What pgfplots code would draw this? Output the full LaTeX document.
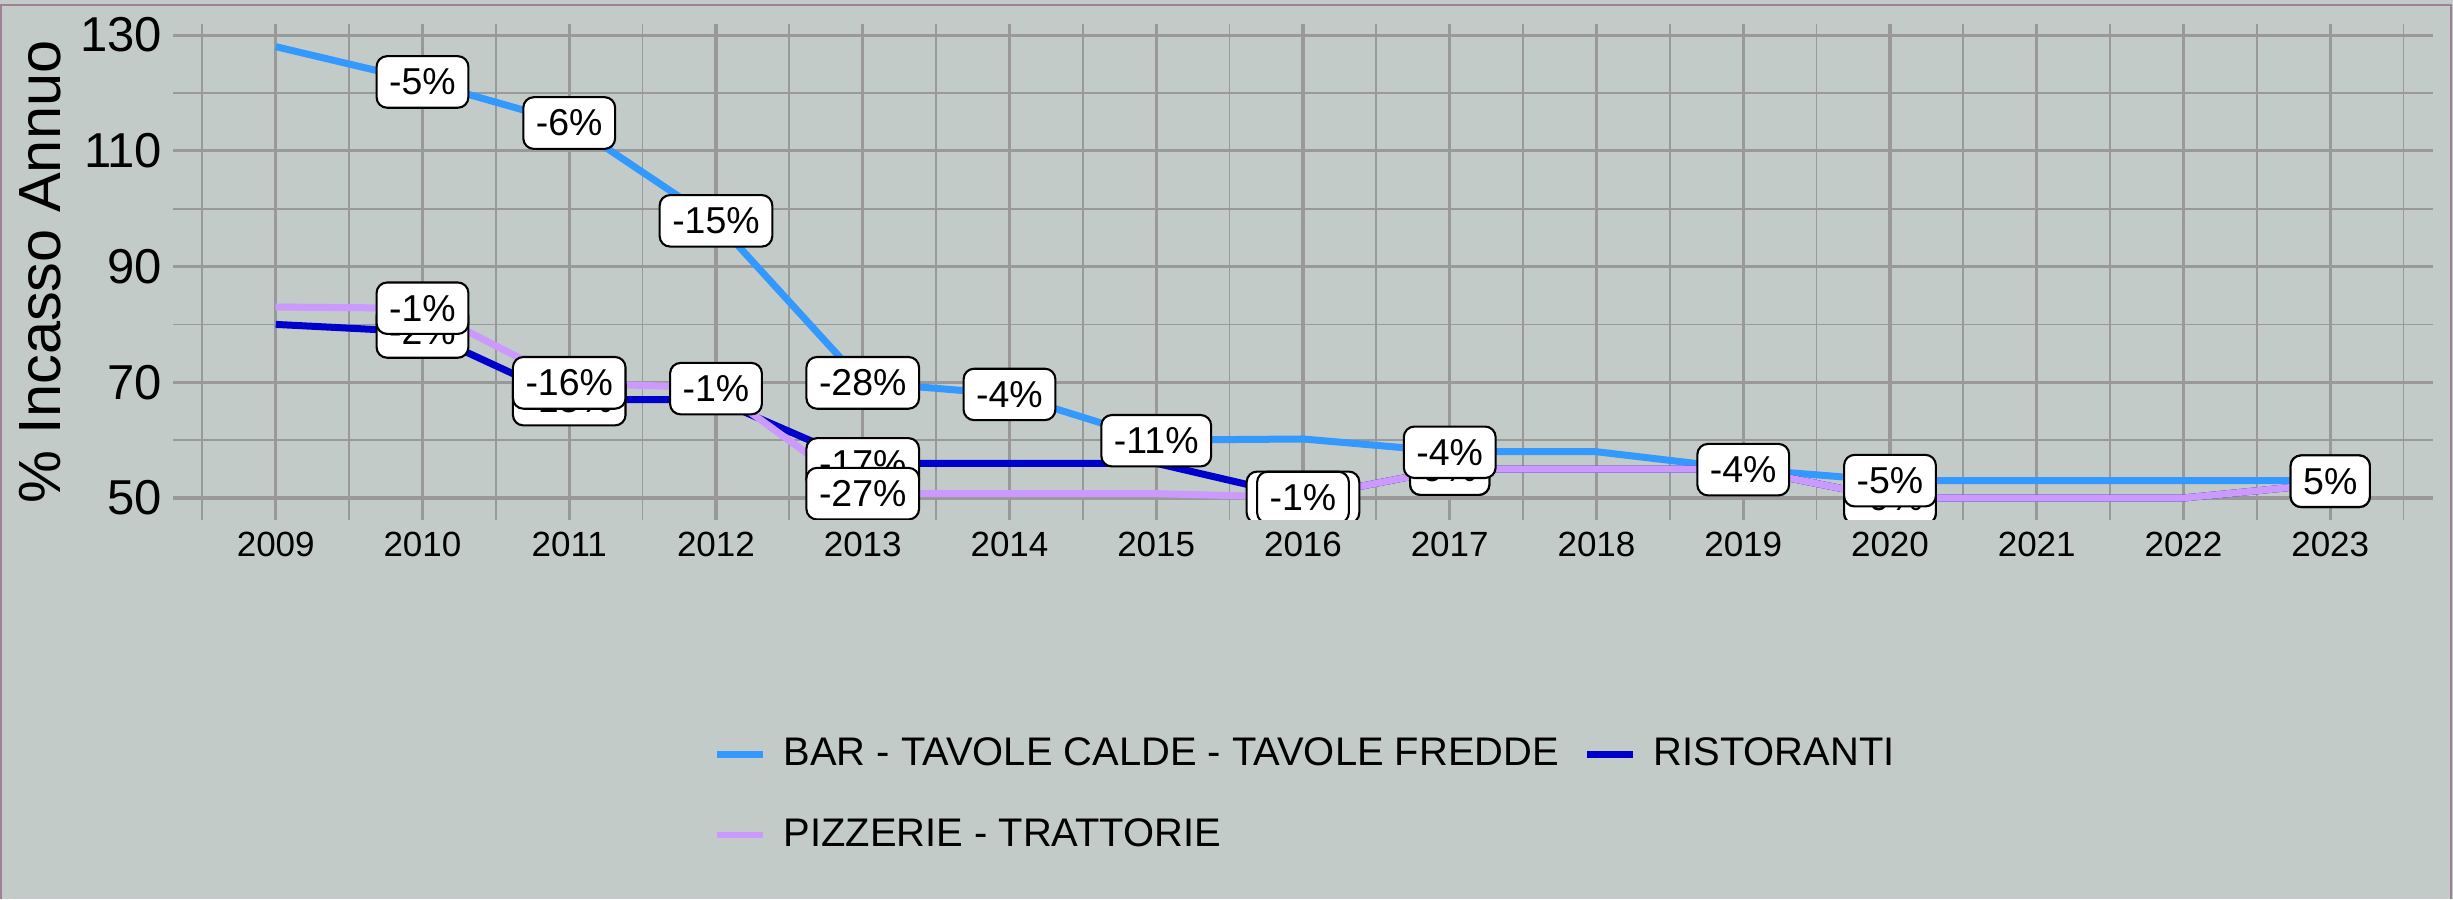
\documentclass[border=0pt]{standalone}
\usepackage{fontspec}
\setmainfont{Liberation Sans}
\usepackage{pgfplots}
\pgfplotsset{compat=1.18}
\definecolor{bg}{RGB}{194,203,199}
\definecolor{gridc}{RGB}{153,153,153}
\definecolor{barc}{RGB}{51,153,255}
\definecolor{ristc}{RGB}{0,0,204}
\definecolor{pizzc}{RGB}{204,153,255}
\definecolor{framec}{RGB}{160,128,150}
\pgfplotsset{lbl/.style={forget plot, draw=none, nodes near coords, point meta=explicit symbolic}}
\begin{document}
\begin{tikzpicture}
\path[use as bounding box, fill=bg] (0,0) rectangle (700.86pt,256.86pt);
\begin{axis}[
  at={(49.43pt,108.29pt)}, anchor=south west,
  scale only axis, width=645.7pt, height=141.6pt,
  xmin=2008.3, xmax=2023.7, ymin=46.2, ymax=131.85,
  xtick={2009,2010,...,2023},
  minor xtick={2008.5,2009.5,...,2023.5},
  ytick={50,70,90,110,130},
  minor ytick={60,80,100,120},
  grid=both,
  major grid style={gridc, line width=0.9pt},
  minor grid style={gridc, line width=0.5pt},
  axis line style={draw=none},
  tick style={draw=none},
  /pgf/number format/assume math mode=true,
  /pgf/number format/1000 sep={},
  xticklabel style={font=\fontsize{10}{12}\selectfont},
  yticklabel style={font=\fontsize{14}{16}\selectfont, inner xsep=2.9pt},
  ylabel={\% Incasso Annuo},
  ylabel style={font=\fontsize{17}{20}\selectfont, at={(axis description cs:-0.0589,0.5)}, anchor=center},
  clip marker paths=true,
  every node near coord/.append style={anchor=center, fill=white, draw=black, line width=0.6pt, rounded corners=3pt, inner sep=3.6pt, font=\fontsize{10.7}{12}\selectfont, text=black},
  legend columns=2,
  legend cell align=left,
  legend style={at={(0.2394,-0.4392)}, anchor=north west, draw=none, fill=none, inner sep=0pt, outer sep=0pt, row sep=13.6pt,
    font=\fontsize{11.4}{13}\selectfont, nodes={inner sep=0pt},
    /tikz/every odd column/.append style={column sep=5pt},
    /tikz/every even column/.append style={column sep=7.2pt}},
  legend image code/.code={\draw[line width=1.9pt] (0pt,0pt) -- (13pt,0pt);},
]
\addplot[barc, line width=2pt, line join=round] table {
x y
2009 128
2010 122
2011 114.8
2012 97.8
2013 70
2014 67.9
2015 60
2016 60.2
2017 58
2018 58
2019 55
2020 53
2021 53
2022 53
2023 53
};
\addplot[ristc, line width=2pt, line join=round] table {
x y
2009 80
2010 78.7
2011 67
2012 67
2013 56
2014 56
2015 56
2016 50.1
2017 55
2018 55
2019 55
2020 50
2021 50
2022 50
2023 52.5
};
\addplot[pizzc, line width=2pt, line join=round] table {
x y
2009 83
2010 82.8
2011 69.8
2012 69.1
2013 50.75
2014 50.75
2015 50.75
2016 50.1
2017 55
2018 55
2019 55
2020 50
2021 50
2022 50
2023 52.5
};
\legend{BAR - TAVOLE CALDE - TAVOLE FREDDE, RISTORANTI, PIZZERIE - TRATTORIE}
% labels: ristoranti
\addplot[lbl] table[meta=l] {
x y l
2010 78.7 -2\%
2011 67 -15\%
2013 55.9 -17\%
2016 50.1 -10\%
2017 55 9\%
2020 50 -9\%
2023 52.9 5\%
};
% labels: pizzerie
\addplot[lbl] table[meta=l] {
x y l
2010 82.8 -1\%
2011 69.9 -16\%
2012 68.9 -1\%
2013 50.75 -27\%
2016 50.1 -1\%
2017 55 9\%
2020 50 -9\%
2023 52.9 5\%
};
% labels: bar
\addplot[lbl] table[meta=l] {
x y l
2010 121.9 -5\%
2011 114.8 -6\%
2012 97.9 -15\%
2013 69.9 -28\%
2014 67.9 -4\%
2015 59.9 -11\%
2017 57.9 -4\%
2019 54.9 -4\%
2020 53 -5\%
};
\end{axis}
\draw[framec, line width=0.5pt] (0.3pt,0pt) -- (0.3pt,255.43pt) -- (700.3pt,255.43pt) -- (700.3pt,0pt);
\end{tikzpicture}
\end{document}
